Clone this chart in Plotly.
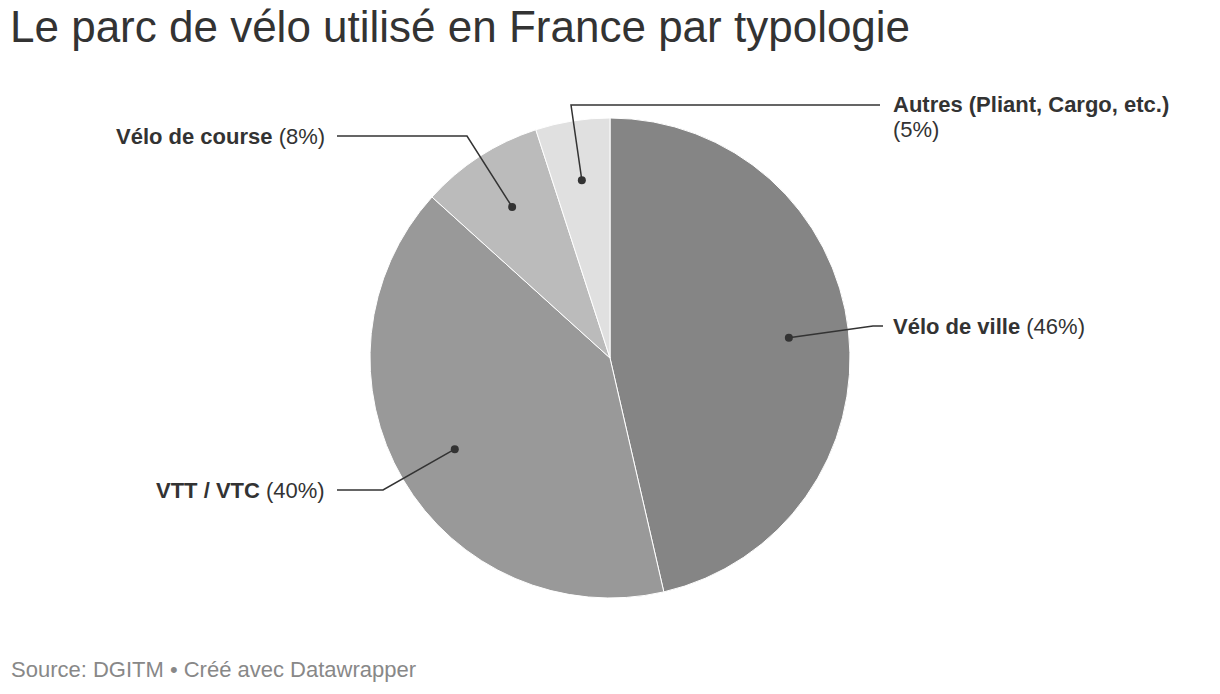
import math
import plotly.graph_objects as go

# Data
categories = ["Vélo de ville", "VTT / VTC", "Vélo de course", "Autres (Pliant, Cargo, etc.)"]
values = [46.4, 40.3, 8.3, 5.0]
pct_labels = ["46%", "40%", "8%", "5%"]
colors = ["#858585", "#999999", "#bbbbbb", "#e0e0e0"]
title_text = "Le parc de vélo utilisé en France par typologie"
source_text = "Source: DGITM • Créé avec Datawrapper"

W, H = 1220, 694
OFF = 8  # page body margin
cx, cy, R = 610, 358, 240  # screen pixel coordinates
FONT = "Liberation Sans, Arial, Helvetica"

fig = go.Figure()
fx, fy = cx - OFF, cy - OFF
fig.add_trace(go.Pie(
    labels=categories, values=values, sort=False, direction="clockwise", rotation=0,
    marker=dict(colors=colors, line=dict(color="white", width=1)),
    textinfo="none", hoverinfo="skip", showlegend=False,
    domain=dict(x=[(fx - R) / W, (fx + R) / W], y=[1 - (fy + R) / H, 1 - (fy - R) / H]),
))

# label layout: (elbow_x, label_y, end_x, side)
layout_spec = [
    (873, 326, 883, "right"),
    (383, 490, 337, "left"),
    (467, 136, 337, "left"),
    (571, 105, 880, "right"),
]

total = sum(values)
cum = 0
lab_font = dict(size=22, color="#333333", family=FONT)
for i, v in enumerate(values):
    mid = (cum + v / 2) / total * 2 * math.pi
    cum += v
    dx = cx + 0.75 * R * math.sin(mid)
    dy = cy - 0.75 * R * math.cos(mid)
    ex, ly, endx, side = layout_spec[i]
    fig.add_shape(type="path", xref="x", yref="y", layer="above",
                  path=f"M {dx:.2f} {dy:.2f} L {ex} {ly} L {endx} {ly}",
                  line=dict(color="#333333", width=1.5))
    fig.add_shape(type="circle", xref="x", yref="y", layer="above",
                  x0=dx - 4, x1=dx + 4, y0=dy - 4, y1=dy + 4,
                  fillcolor="#333333", line=dict(color="#333333", width=0))
    if i == 3:
        fig.add_annotation(x=891, y=104, xref="x", yref="y", text="<b>" + categories[i] + "</b>",
                           showarrow=False, xanchor="left", yanchor="middle", font=lab_font)
        fig.add_annotation(x=891, y=129, xref="x", yref="y", text="(" + pct_labels[i] + ")",
                           showarrow=False, xanchor="left", yanchor="middle", font=lab_font)
    else:
        text = "<b>" + categories[i] + "</b> (" + pct_labels[i] + ")"
        if side == "right":
            fig.add_annotation(x=891, y=ly, xref="x", yref="y", text=text, showarrow=False,
                               xanchor="left", yanchor="middle", font=lab_font)
        else:
            fig.add_annotation(x=327, y=ly, xref="x", yref="y", text=text, showarrow=False,
                               xanchor="right", yanchor="middle", font=lab_font)

fig.add_annotation(x=9, y=669, xref="x", yref="y", text=source_text,
                   showarrow=False, xanchor="left", yanchor="middle",
                   font=dict(size=22, color="#888888", family=FONT))

fig.update_layout(
    width=W, height=H, margin=dict(l=0, r=0, t=0, b=0),
    title=dict(text=title_text, x=2 / W, xref="paper", xanchor="left",
               y=1 - (27 - OFF) / H, yref="paper", yanchor="middle",
               font=dict(size=44, color="#333333", family=FONT)),
    paper_bgcolor="white", plot_bgcolor="rgba(0,0,0,0)",
    xaxis=dict(range=[OFF, W + OFF], visible=False, fixedrange=True),
    yaxis=dict(range=[H + OFF, OFF], visible=False, fixedrange=True),
    showlegend=False,
)
fig.write_html("out.html")
